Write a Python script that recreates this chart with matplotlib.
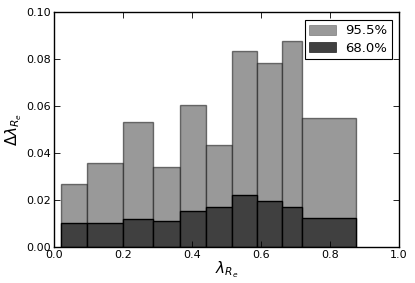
import matplotlib.pyplot as plt
import numpy as np

# bin edges in lambda_Re and error heights per bin
edges = [0.020, 0.097, 0.201, 0.288, 0.366, 0.441, 0.517, 0.588, 0.662, 0.720, 0.876]
err_955 = [0.0269, 0.0358, 0.0532, 0.0339, 0.0606, 0.0432, 0.0836, 0.0785, 0.0878, 0.0551]
err_680 = [0.0100, 0.0100, 0.0118, 0.0111, 0.0153, 0.0168, 0.0221, 0.0197, 0.0168, 0.0121]
labels = ["95.5%", "68.0%"]

plt.rcParams["mathtext.fontset"] = "dejavusans"

fig = plt.figure(figsize=(4.15, 2.83), dpi=100)
ax = fig.add_axes([0.130, 0.128, 0.831, 0.8285])

left = np.array(edges[:-1])
width = np.diff(edges)

ax.bar(left, err_955, width=width, align="edge", color="#999999",
       edgecolor=(0, 0, 0, 0.5), linewidth=1.0, label=labels[0])
ax.bar(left, err_680, width=width, align="edge", color="#404040",
       edgecolor="black", linewidth=1.0, label=labels[1])

ax.set_xlim(0, 1.0)
ax.set_ylim(0, 0.10)
ax.set_xticks(np.arange(0, 1.01, 0.2))
ax.set_yticks(np.arange(0, 0.101, 0.02))
ax.set_yticklabels([f"{v:.2f}" for v in np.arange(0, 0.101, 0.02)])
ax.tick_params(direction="in", top=True, right=True, labelsize=8, length=4, width=0.6, pad=2)
for s in ax.spines.values():
    s.set_linewidth(1.0)

ax.set_xlabel(r"$\lambda_{R_e}$", fontsize=11, labelpad=0)
ax.set_ylabel(r"$\Delta\lambda_{R_e}$", fontsize=11, labelpad=2)

leg = ax.legend(loc="upper right", fontsize=9.5, fancybox=False, framealpha=1,
                edgecolor="black", borderaxespad=0.55, handlelength=2.0,
                handleheight=0.8, labelspacing=0.35, borderpad=0.35, handletextpad=0.7)
leg.get_frame().set_linewidth(0.8)
for h in leg.legend_handles:
    h.set_linewidth(0.4)

fig.savefig("out.png", dpi=100)
